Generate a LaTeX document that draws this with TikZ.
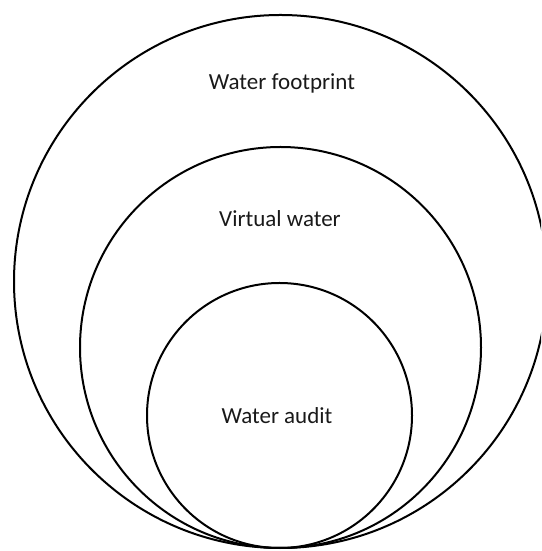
\documentclass[tikz,border=0pt]{standalone}
\usepackage{fontspec}
\setmainfont{Carlito}
\begin{document}
\begin{tikzpicture}[x=1pt,y=1pt,
  ring/.style={circle,draw=black,line width=2pt,inner sep=0pt},
  lbl/.style={font=\fontsize{23}{26}\selectfont,text=black!90}]
\useasboundingbox (0,0) rectangle (541,551);
\clip (0,0) rectangle (541,551);
\node[ring,minimum size=533pt] (outer) at (280.5,269.5) {};
\node[ring,minimum size=401pt] (middle) at (280.5,203.5) {};
\node[ring,minimum size=265pt] (inner) at (279.5,135.5) {};
\node[lbl] (tf) at (282,468) {Water footprint};
\node[lbl] (tv) at (280,332) {Virtual water};
\node[lbl] (ta) at (277,135) {Water audit};
\end{tikzpicture}
\end{document}
